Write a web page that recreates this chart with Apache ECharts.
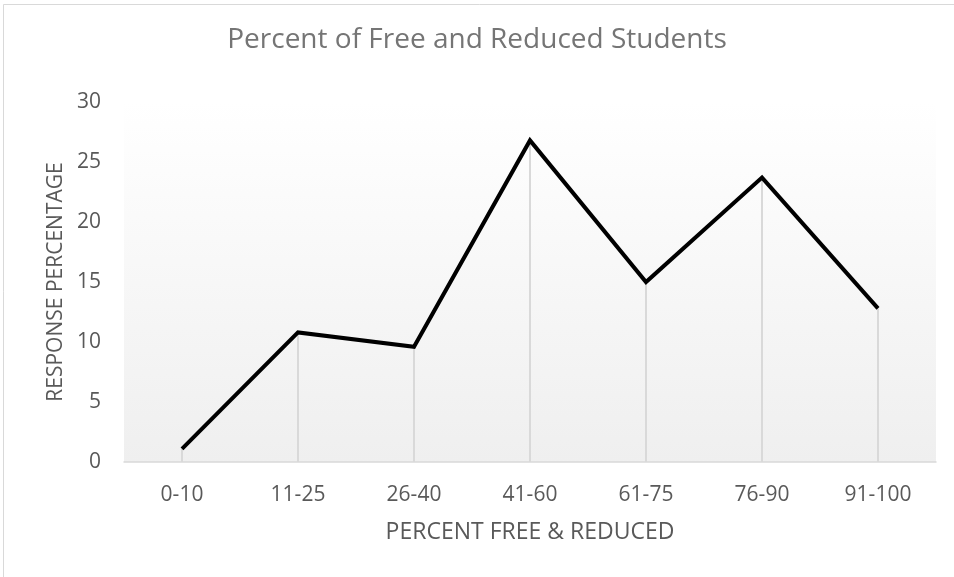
<!DOCTYPE html>
<html>
<head>
<meta charset="utf-8">
<script src="https://cdn.jsdelivr.net/npm/echarts@6/dist/echarts.min.js"></script>
<style>
html,body{margin:0;padding:0;background:#fff;}
#chart{width:954px;height:577px;}
</style>
</head>
<body>
<div id="chart"></div>
<script>
const titleText = "Percent of Free and Reduced Students";
const categories = ["0-10", "11-25", "26-40", "41-60", "61-75", "76-90", "91-100"];
const values = [1.1, 10.8, 9.6, 26.8, 15.0, 23.7, 12.8];
const yAxisName = "RESPONSE PERCENTAGE";
const xAxisName = "PERCENT FREE & REDUCED";

const FONT = "'Open Sans', 'Noto Sans', sans-serif";
const chart = echarts.init(document.getElementById('chart'), null, {renderer: 'canvas'});
chart.setOption({
  animation: false,
  backgroundColor: '#ffffff',
  graphic: [{
    type: 'rect',
    shape: {x: 3.5, y: 4.5, width: 960, height: 600},
    style: {fill: 'none', stroke: '#d9d9d9', lineWidth: 1},
    silent: true, z: -10
  }],
  title: {
    text: titleText,
    left: 'center',
    top: 21,
    textStyle: {fontFamily: FONT, fontSize: 28, fontWeight: 'normal', color: '#757575'}
  },
  grid: {
    left: 124, right: 18, top: 102, bottom: 115,
    show: true,
    borderWidth: 0,
    backgroundColor: {
      type: 'linear', x: 0, y: 0, x2: 0, y2: 1,
      colorStops: [
        {offset: 0, color: '#ffffff'},
        {offset: 0.13, color: '#fdfdfd'},
        {offset: 1, color: '#efefef'}
      ]
    }
  },
  xAxis: {
    type: 'category',
    data: categories,
    name: xAxisName,
    nameLocation: 'middle',
    nameGap: 59,
    nameTextStyle: {fontFamily: FONT, fontSize: 23, color: '#595959'},
    axisLine: {lineStyle: {color: '#d9d9d9', width: 1.5}},
    axisTick: {show: false},
    axisLabel: {fontFamily: FONT, fontSize: 21, color: '#595959', margin: 23},
    splitLine: {show: false}
  },
  yAxis: {
    type: 'value',
    min: 0, max: 30, interval: 5,
    name: yAxisName,
    nameLocation: 'middle',
    nameGap: 57,
    nameRotate: 90,
    nameTextStyle: {fontFamily: FONT, fontSize: 21, color: '#595959'},
    axisLine: {show: false},
    axisTick: {show: false},
    axisLabel: {fontFamily: FONT, fontSize: 21, color: '#595959', margin: 23},
    splitLine: {show: false}
  },
  series: [
    {
      type: 'bar',
      data: values,
      barWidth: 2,
      itemStyle: {color: '#d9d9d9'},
      silent: true,
      z: 1
    },
    {
      type: 'line',
      data: values,
      symbol: 'none',
      lineStyle: {color: '#000000', width: 4, join: 'miter'},
      z: 3
    }
  ]
});
</script>
</body>
</html>
